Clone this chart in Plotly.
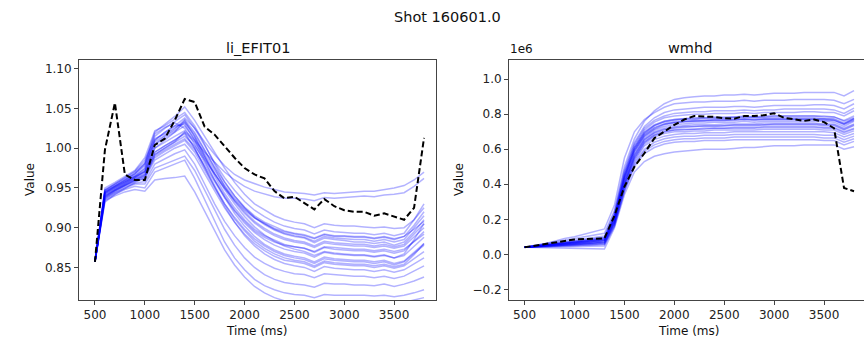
import plotly.graph_objects as go

# ---------------- data ----------------
time_ms = [500, 600, 700, 800, 900, 1000, 1100, 1200, 1300, 1400, 1500, 1600, 1700,
           1800, 1900, 2000, 2100, 2200, 2300, 2400, 2500, 2600, 2700, 2800, 2900,
           3000, 3100, 3200, 3300, 3400, 3500, 3600, 3700, 3800]

li_actual = [0.857, 0.998, 1.057, 0.967, 0.960, 0.960, 1.004, 1.012, 1.035, 1.062, 1.058,
             1.027, 1.017, 1.002, 0.988, 0.975, 0.967, 0.962, 0.946, 0.937, 0.939, 0.931,
             0.923, 0.936, 0.927, 0.922, 0.920, 0.920, 0.915, 0.918, 0.914, 0.910, 0.925, 1.013]

li_ensemble = [
    [0.857,0.948,0.955,0.962,0.970,0.982,1.020,1.030,1.040,1.052,1.035,1.015,0.995,0.975,0.957,0.942,0.930,0.922,0.915,0.910,0.907,0.905,0.900,0.905,0.903,0.902,0.902,0.901,0.900,0.901,0.899,0.900,0.910,0.925],
    [0.857,0.945,0.952,0.958,0.965,0.975,1.010,1.020,1.028,1.038,1.025,1.008,0.992,0.978,0.967,0.960,0.955,0.951,0.948,0.945,0.944,0.943,0.941,0.944,0.943,0.944,0.945,0.946,0.946,0.948,0.950,0.953,0.960,0.970],
    [0.857,0.940,0.948,0.955,0.962,0.970,1.000,1.008,1.015,1.022,1.010,0.995,0.982,0.970,0.960,0.952,0.946,0.942,0.939,0.937,0.937,0.936,0.934,0.938,0.937,0.938,0.939,0.940,0.939,0.941,0.942,0.944,0.952,0.962],
    [0.857,0.946,0.953,0.960,0.967,0.978,1.015,1.025,1.033,1.042,1.025,1.003,0.982,0.963,0.947,0.933,0.922,0.914,0.907,0.902,0.899,0.897,0.892,0.897,0.895,0.894,0.893,0.893,0.891,0.893,0.890,0.893,0.910,0.930],
    [0.857,0.943,0.950,0.957,0.963,0.972,1.005,1.015,1.022,1.032,1.015,0.993,0.972,0.953,0.937,0.924,0.913,0.905,0.898,0.893,0.890,0.888,0.883,0.889,0.887,0.886,0.885,0.885,0.883,0.885,0.882,0.885,0.900,0.915],
    [0.857,0.944,0.951,0.958,0.964,0.970,0.995,1.003,1.010,1.020,1.008,0.988,0.968,0.950,0.934,0.920,0.908,0.899,0.892,0.887,0.884,0.882,0.877,0.883,0.881,0.880,0.879,0.879,0.877,0.879,0.876,0.879,0.892,0.905],
    [0.857,0.942,0.949,0.956,0.962,0.968,1.000,1.010,1.020,1.035,1.015,0.990,0.965,0.943,0.925,0.910,0.898,0.890,0.884,0.879,0.876,0.874,0.869,0.875,0.873,0.872,0.871,0.871,0.869,0.871,0.868,0.871,0.883,0.895],
    [0.857,0.940,0.947,0.954,0.960,0.965,0.990,0.998,1.005,1.012,0.998,0.978,0.957,0.938,0.921,0.906,0.894,0.885,0.878,0.873,0.870,0.868,0.863,0.869,0.867,0.866,0.865,0.865,0.863,0.865,0.862,0.865,0.877,0.888],
    [0.857,0.945,0.952,0.959,0.965,0.974,1.010,1.020,1.028,1.030,1.010,0.985,0.960,0.938,0.918,0.902,0.889,0.879,0.872,0.867,0.864,0.862,0.857,0.863,0.861,0.860,0.859,0.859,0.857,0.859,0.855,0.858,0.869,0.880],
    [0.857,0.938,0.946,0.953,0.958,0.962,0.985,0.993,1.000,1.005,0.990,0.968,0.946,0.925,0.907,0.892,0.880,0.871,0.864,0.859,0.857,0.855,0.850,0.856,0.854,0.853,0.852,0.852,0.850,0.852,0.849,0.852,0.861,0.870],
    [0.857,0.941,0.948,0.955,0.961,0.967,0.995,1.003,1.010,1.018,1.000,0.975,0.950,0.927,0.907,0.890,0.877,0.867,0.860,0.855,0.852,0.850,0.845,0.851,0.849,0.848,0.847,0.847,0.845,0.847,0.844,0.847,0.855,0.862],
    [0.857,0.936,0.944,0.951,0.956,0.958,0.980,0.987,0.993,0.998,0.980,0.955,0.930,0.908,0.890,0.875,0.863,0.855,0.849,0.845,0.842,0.841,0.837,0.842,0.841,0.840,0.839,0.839,0.837,0.839,0.836,0.839,0.845,0.852],
    [0.857,0.935,0.942,0.948,0.952,0.950,0.970,0.975,0.980,0.985,0.962,0.935,0.907,0.882,0.862,0.847,0.835,0.827,0.822,0.818,0.816,0.815,0.812,0.816,0.815,0.815,0.815,0.815,0.814,0.815,0.813,0.815,0.818,0.822],
    [0.857,0.937,0.944,0.950,0.955,0.955,0.975,0.980,0.985,0.990,0.972,0.948,0.922,0.898,0.878,0.862,0.850,0.841,0.835,0.831,0.829,0.828,0.825,0.830,0.829,0.829,0.828,0.828,0.827,0.829,0.826,0.829,0.833,0.838],
    [0.857,0.934,0.940,0.945,0.948,0.946,0.960,0.962,0.963,0.965,0.945,0.920,0.895,0.872,0.853,0.838,0.826,0.818,0.812,0.808,0.806,0.805,0.803,0.806,0.806,0.806,0.806,0.806,0.805,0.806,0.804,0.806,0.809,0.812],
    [0.857,0.947,0.954,0.961,0.968,0.980,1.018,1.026,1.032,1.025,1.005,0.982,0.960,0.940,0.922,0.908,0.896,0.888,0.882,0.878,0.876,0.874,0.870,0.876,0.875,0.874,0.873,0.873,0.871,0.873,0.870,0.873,0.882,0.892],
    [0.857,0.943,0.950,0.957,0.963,0.971,1.005,1.013,1.020,1.028,1.012,0.990,0.968,0.948,0.930,0.914,0.901,0.891,0.883,0.877,0.873,0.870,0.865,0.870,0.868,0.867,0.866,0.866,0.864,0.866,0.862,0.867,0.885,0.905],
    [0.857,0.939,0.947,0.954,0.960,0.966,0.992,1.000,1.007,1.015,1.003,0.985,0.967,0.950,0.935,0.922,0.912,0.905,0.899,0.895,0.892,0.890,0.886,0.891,0.889,0.889,0.888,0.888,0.886,0.888,0.885,0.889,0.903,0.920],
    [0.857,0.950,0.957,0.964,0.972,0.988,1.022,1.028,1.036,1.045,1.028,1.005,0.980,0.958,0.940,0.925,0.913,0.904,0.897,0.892,0.889,0.887,0.881,0.887,0.885,0.884,0.882,0.882,0.880,0.882,0.878,0.882,0.895,0.910],
    [0.857,0.932,0.942,0.950,0.957,0.963,0.988,0.996,1.003,1.010,0.995,0.972,0.950,0.930,0.913,0.898,0.886,0.877,0.870,0.865,0.862,0.860,0.855,0.861,0.859,0.858,0.857,0.857,0.855,0.857,0.853,0.857,0.868,0.878],
    [0.857,0.947,0.955,0.963,0.971,0.985,1.012,1.018,1.025,1.033,1.018,0.997,0.976,0.957,0.940,0.926,0.915,0.907,0.901,0.896,0.893,0.891,0.887,0.892,0.890,0.890,0.889,0.889,0.887,0.889,0.886,0.889,0.898,0.908],
    [0.857,0.938,0.946,0.953,0.959,0.964,0.992,1.000,1.008,1.020,1.000,0.976,0.952,0.930,0.911,0.896,0.883,0.874,0.867,0.862,0.859,0.857,0.852,0.858,0.856,0.855,0.854,0.854,0.852,0.854,0.851,0.854,0.866,0.880],
    [0.857,0.944,0.952,0.960,0.968,0.980,1.008,1.016,1.024,1.036,1.020,0.998,0.974,0.952,0.933,0.918,0.906,0.897,0.890,0.885,0.882,0.880,0.875,0.881,0.879,0.878,0.877,0.877,0.875,0.877,0.874,0.877,0.888,0.900],
]

# wmhd values in units of 1e6
wmhd_actual_1e6 = [0.040, 0.049, 0.058, 0.067, 0.076, 0.085, 0.087, 0.089, 0.091, 0.220, 0.386,
                   0.500, 0.577, 0.663, 0.700, 0.739, 0.770, 0.790, 0.787, 0.785, 0.777, 0.775,
                   0.790, 0.790, 0.795, 0.806, 0.780, 0.772, 0.762, 0.770, 0.755, 0.720, 0.379, 0.360]

wmhd_ensemble_1e6 = [
    [0.04,0.05,0.06,0.07,0.08,0.09,0.10,0.11,0.12,0.25,0.50,0.66,0.76,0.82,0.86,0.885,0.895,0.90,0.905,0.905,0.91,0.91,0.915,0.91,0.915,0.92,0.92,0.92,0.925,0.925,0.925,0.925,0.905,0.935],
    [0.04,0.05,0.06,0.075,0.09,0.10,0.115,0.13,0.145,0.28,0.55,0.70,0.77,0.81,0.84,0.86,0.865,0.87,0.87,0.875,0.875,0.875,0.88,0.875,0.88,0.88,0.88,0.885,0.885,0.885,0.885,0.88,0.86,0.885],
    [0.04,0.048,0.056,0.064,0.072,0.08,0.088,0.096,0.104,0.24,0.48,0.64,0.73,0.78,0.81,0.825,0.83,0.835,0.84,0.84,0.84,0.845,0.845,0.84,0.845,0.85,0.85,0.85,0.85,0.855,0.855,0.85,0.83,0.86],
    [0.04,0.047,0.054,0.061,0.068,0.075,0.082,0.089,0.096,0.22,0.46,0.62,0.71,0.755,0.78,0.79,0.795,0.80,0.80,0.805,0.805,0.805,0.81,0.805,0.81,0.81,0.81,0.81,0.815,0.815,0.81,0.81,0.79,0.82],
    [0.04,0.046,0.052,0.058,0.064,0.07,0.076,0.082,0.088,0.21,0.44,0.60,0.69,0.735,0.76,0.77,0.775,0.78,0.78,0.785,0.785,0.785,0.79,0.785,0.79,0.79,0.79,0.79,0.79,0.79,0.79,0.785,0.765,0.79],
    [0.04,0.046,0.052,0.058,0.064,0.07,0.076,0.082,0.088,0.20,0.43,0.59,0.68,0.72,0.745,0.755,0.76,0.765,0.765,0.77,0.77,0.77,0.775,0.77,0.775,0.775,0.775,0.775,0.775,0.775,0.775,0.77,0.745,0.775],
    [0.04,0.045,0.05,0.055,0.06,0.065,0.07,0.075,0.08,0.20,0.42,0.58,0.67,0.71,0.73,0.74,0.745,0.75,0.75,0.755,0.755,0.755,0.76,0.755,0.76,0.76,0.76,0.76,0.76,0.76,0.76,0.755,0.73,0.76],
    [0.04,0.045,0.05,0.055,0.06,0.065,0.07,0.075,0.08,0.19,0.41,0.57,0.66,0.70,0.72,0.73,0.735,0.74,0.74,0.74,0.745,0.745,0.745,0.745,0.75,0.75,0.75,0.75,0.75,0.75,0.745,0.745,0.72,0.745],
    [0.04,0.044,0.048,0.052,0.056,0.06,0.064,0.068,0.072,0.19,0.40,0.56,0.65,0.69,0.71,0.72,0.725,0.73,0.73,0.73,0.735,0.735,0.735,0.735,0.74,0.74,0.74,0.74,0.74,0.74,0.735,0.735,0.71,0.735],
    [0.04,0.044,0.048,0.052,0.056,0.06,0.064,0.068,0.072,0.18,0.39,0.55,0.64,0.68,0.70,0.71,0.715,0.715,0.72,0.72,0.72,0.725,0.725,0.725,0.73,0.73,0.73,0.73,0.73,0.73,0.725,0.725,0.70,0.72],
    [0.04,0.043,0.046,0.049,0.052,0.055,0.058,0.061,0.064,0.18,0.39,0.54,0.63,0.67,0.69,0.70,0.70,0.705,0.705,0.71,0.71,0.71,0.71,0.71,0.715,0.715,0.715,0.715,0.715,0.715,0.71,0.71,0.685,0.705],
    [0.04,0.043,0.046,0.049,0.052,0.055,0.058,0.061,0.064,0.17,0.38,0.53,0.62,0.655,0.675,0.685,0.69,0.69,0.695,0.695,0.695,0.70,0.70,0.70,0.70,0.70,0.70,0.70,0.70,0.70,0.70,0.695,0.67,0.69],
    [0.04,0.042,0.044,0.046,0.048,0.05,0.052,0.054,0.056,0.17,0.37,0.52,0.60,0.64,0.66,0.67,0.675,0.675,0.68,0.68,0.68,0.685,0.685,0.685,0.685,0.685,0.685,0.685,0.685,0.685,0.68,0.68,0.655,0.675],
    [0.04,0.042,0.044,0.046,0.048,0.05,0.052,0.054,0.056,0.16,0.36,0.51,0.59,0.625,0.645,0.655,0.66,0.66,0.665,0.665,0.665,0.67,0.67,0.67,0.67,0.67,0.67,0.67,0.67,0.67,0.665,0.665,0.64,0.66],
    [0.04,0.041,0.042,0.043,0.044,0.045,0.046,0.047,0.048,0.16,0.36,0.50,0.575,0.61,0.63,0.64,0.645,0.645,0.65,0.65,0.65,0.655,0.655,0.655,0.655,0.655,0.655,0.655,0.655,0.655,0.65,0.65,0.625,0.645],
    [0.04,0.039,0.038,0.037,0.036,0.035,0.034,0.033,0.03,0.15,0.34,0.47,0.53,0.56,0.575,0.585,0.59,0.595,0.60,0.60,0.60,0.605,0.61,0.61,0.615,0.62,0.62,0.62,0.625,0.625,0.625,0.625,0.60,0.615],
    [0.04,0.047,0.054,0.061,0.068,0.075,0.082,0.089,0.096,0.23,0.47,0.63,0.72,0.765,0.79,0.805,0.81,0.815,0.815,0.82,0.82,0.82,0.825,0.82,0.825,0.825,0.83,0.83,0.83,0.83,0.83,0.825,0.805,0.835],
    [0.04,0.045,0.05,0.055,0.06,0.065,0.07,0.075,0.08,0.21,0.43,0.59,0.675,0.715,0.74,0.75,0.755,0.76,0.76,0.765,0.765,0.765,0.77,0.765,0.77,0.77,0.77,0.77,0.77,0.77,0.765,0.765,0.74,0.765],
    [0.04,0.046,0.052,0.058,0.064,0.07,0.076,0.082,0.088,0.22,0.45,0.61,0.70,0.74,0.76,0.77,0.775,0.775,0.78,0.78,0.78,0.785,0.785,0.785,0.785,0.79,0.79,0.79,0.79,0.79,0.785,0.785,0.76,0.78],
    [0.04,0.045,0.05,0.055,0.06,0.065,0.07,0.075,0.08,0.20,0.44,0.60,0.685,0.725,0.745,0.755,0.76,0.76,0.765,0.765,0.765,0.77,0.77,0.77,0.77,0.77,0.77,0.77,0.77,0.77,0.77,0.765,0.745,0.77],
    [0.04,0.044,0.048,0.052,0.056,0.06,0.064,0.068,0.072,0.19,0.41,0.565,0.655,0.695,0.715,0.725,0.73,0.73,0.735,0.735,0.735,0.74,0.74,0.74,0.74,0.745,0.745,0.745,0.745,0.745,0.74,0.74,0.715,0.74],
    [0.04,0.043,0.046,0.049,0.052,0.055,0.058,0.061,0.064,0.18,0.40,0.55,0.64,0.68,0.70,0.71,0.71,0.715,0.715,0.72,0.72,0.72,0.72,0.72,0.725,0.725,0.725,0.725,0.725,0.725,0.72,0.72,0.695,0.715],
    [0.04,0.046,0.052,0.058,0.064,0.07,0.076,0.082,0.088,0.21,0.45,0.61,0.695,0.735,0.755,0.765,0.77,0.77,0.775,0.775,0.775,0.78,0.78,0.78,0.78,0.78,0.78,0.78,0.78,0.78,0.775,0.775,0.75,0.775],
]

li_yticks = [0.85, 0.90, 0.95, 1.00, 1.05, 1.10]
wmhd_yticks = [-0.2, 0.0, 0.2, 0.4, 0.6, 0.8, 1.0]
x_ticks = [500, 1000, 1500, 2000, 2500, 3000, 3500]

# ---------------- figure ----------------
W, H = 864, 338
FONT = "DejaVu Sans, Arial, sans-serif"
ENS_COLOR = "rgba(0,0,255,0.3)"
SPINE = "#444444"

fig = go.Figure()

for ys in li_ensemble:
    fig.add_trace(go.Scatter(x=time_ms, y=ys, mode="lines", xaxis="x", yaxis="y",
                             line=dict(color=ENS_COLOR, width=1.5), hoverinfo="skip"))
fig.add_trace(go.Scatter(x=time_ms, y=li_actual, mode="lines", xaxis="x", yaxis="y",
                         line=dict(color="black", width=2, dash="6px,3px")))

for ys in wmhd_ensemble_1e6:
    fig.add_trace(go.Scatter(x=time_ms, y=ys, mode="lines", xaxis="x2", yaxis="y2",
                             line=dict(color=ENS_COLOR, width=1.5), hoverinfo="skip"))
fig.add_trace(go.Scatter(x=time_ms, y=wmhd_actual_1e6, mode="lines", xaxis="x2", yaxis="y2",
                         line=dict(color="black", width=2, dash="6px,3px")))

def px_x(p):
    return p / W

def px_y(p):
    return 1 - p / H

axis_common = dict(showgrid=False, zeroline=False, showline=True, linecolor=SPINE,
                   linewidth=1, ticks="outside", ticklen=4, tickwidth=1, tickcolor=SPINE,
                   tickfont=dict(family=FONT, size=12, color="#222"))

fig.update_layout(
    width=W, height=H,
    margin=dict(l=0, r=0, t=0, b=0),
    paper_bgcolor="white", plot_bgcolor="white",
    showlegend=False,
    font=dict(family=FONT, size=12, color="#222"),
    xaxis=dict(domain=[px_x(79), px_x(436)], range=[340, 3920], anchor="y",
               tickvals=x_ticks, mirror=True, **axis_common),
    yaxis=dict(domain=[px_y(300), px_y(60)], range=[0.809, 1.111], anchor="x",
               tickvals=li_yticks, tickformat=".2f", mirror=True, **axis_common),
    xaxis2=dict(domain=[px_x(509), 1.0], range=[344, 3900], anchor="y2",
                tickvals=x_ticks, mirror=True, **axis_common),
    yaxis2=dict(domain=[px_y(300), px_y(60)], range=[-0.261, 1.110], anchor="x2",
                tickvals=wmhd_yticks, tickformat=".1f", mirror=False, **axis_common),
)

ann = [
    dict(text="Shot 160601.0", x=px_x(447), y=px_y(17), size=14.5),
    dict(text="li_EFIT01", x=px_x(258), y=px_y(48), size=14.5),
    dict(text="wmhd", x=px_x(689.5), y=px_y(48), size=14.5),
    dict(text="Time (ms)", x=px_x(257), y=px_y(331), size=12),
    dict(text="Time (ms)", x=px_x(689), y=px_y(331), size=12),
]
for a in ann:
    fig.add_annotation(text=a["text"], x=a["x"], y=a["y"], xref="paper", yref="paper",
                       xanchor="center", yanchor="middle", showarrow=False,
                       font=dict(family=FONT, size=a["size"], color="#111"))
for xv in (30, 459):
    fig.add_annotation(text="Value", x=px_x(xv), y=px_y(180), xref="paper", yref="paper",
                       xanchor="center", yanchor="middle", showarrow=False, textangle=-90,
                       font=dict(family=FONT, size=12, color="#111"))
fig.add_annotation(text="1e6", x=px_x(508), y=px_y(58), xref="paper", yref="paper",
                   xanchor="left", yanchor="bottom", showarrow=False,
                   font=dict(family=FONT, size=12, color="#111"))

fig.write_html("out.html")
